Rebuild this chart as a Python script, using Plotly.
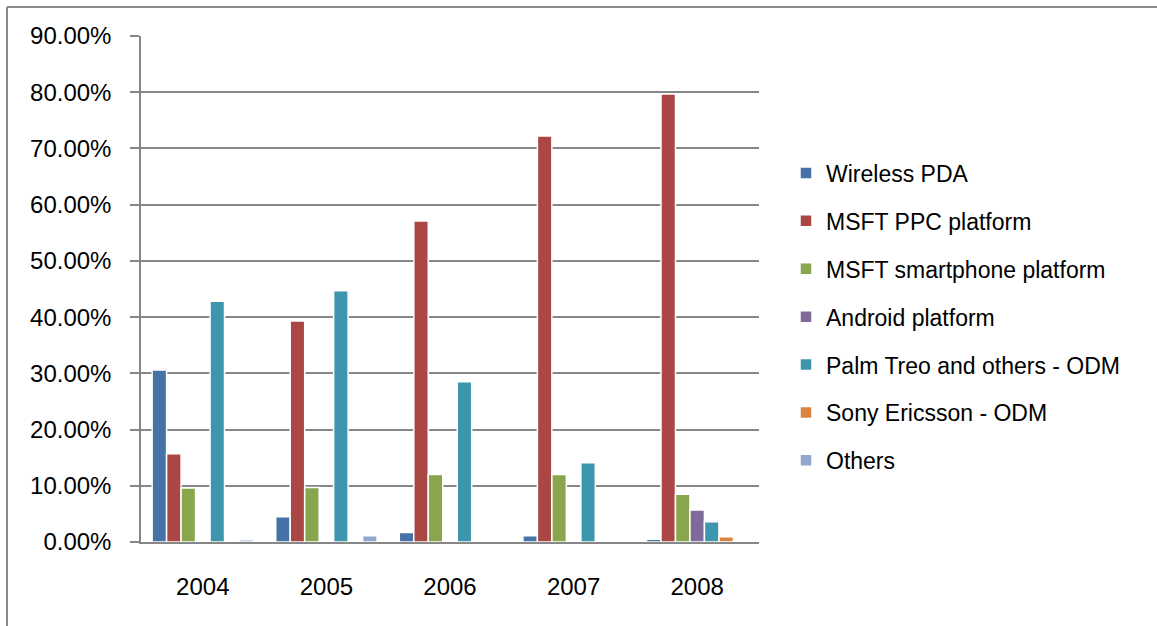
import plotly.graph_objects as go

years = ["2004", "2005", "2006", "2007", "2008"]
series_names = [
    "Wireless PDA",
    "MSFT PPC platform",
    "MSFT smartphone platform",
    "Android platform",
    "Palm Treo and others - ODM",
    "Sony Ericsson - ODM",
    "Others",
]
wireless_pda = [0.306, 0.045, 0.017, 0.011, 0.005]
msft_ppc = [0.157, 0.393, 0.571, 0.722, 0.797]
msft_smartphone = [0.096, 0.097, 0.120, 0.120, 0.085]
android = [0.0, 0.0, 0.0, 0.0, 0.057]
palm_treo = [0.428, 0.447, 0.285, 0.141, 0.036]
sony_ericsson = [0.0, 0.0, 0.0, 0.0, 0.0095]
others = [0.004, 0.011, 0.0, 0.0, 0.0]

values = [wireless_pda, msft_ppc, msft_smartphone, android, palm_treo, sony_ericsson, others]
colors = ["#4572A7", "#AA4643", "#89A54E", "#80699B", "#3D96AE", "#DB843D", "#92A8CD"]

FONT = "Liberation Sans, Arial, sans-serif"

fig = go.Figure()
for i, (name, vals, col) in enumerate(zip(series_names, values, colors)):
    fig.add_trace(go.Bar(
        x=years, y=vals, name=name,
        marker=dict(color=col, line=dict(color="white", width=1.5)),
        legendgroup=f"g{i}",
    ))

gray = "#878787"
L, R, T, B = 141, 398, 36, 84
W, H = 1157 - L - R, 626 - T - B

fig.update_layout(
    width=1157, height=626,
    margin=dict(l=L, r=R, t=T, b=B, pad=0),
    paper_bgcolor="white", plot_bgcolor="white",
    barmode="group", bargap=0.18, bargroupgap=0,
    font=dict(family=FONT, size=23, color="black"),
    showlegend=True,
    legend=dict(
        x=(786 - L) / W, xanchor="left",
        y=(626 - B - 317) / H, yanchor="middle",
        font=dict(family=FONT, size=23, color="black"),
        tracegroupgap=15,
        bgcolor="rgba(0,0,0,0)",
    ),
    xaxis=dict(
        showline=True, linecolor=gray, linewidth=1.5,
        showgrid=False, ticks="", ticklabelstandoff=22,
        tickfont=dict(family=FONT, size=24, color="black"),
    ),
    yaxis=dict(
        range=[0, 0.9], dtick=0.1, tickformat=".2%",
        showline=True, linecolor=gray, linewidth=1.5,
        showgrid=True, gridcolor=gray, gridwidth=1.5,
        ticks="outside", ticklen=9, tickcolor=gray, tickwidth=1.5,
        ticklabelstandoff=14,
        tickfont=dict(family=FONT, size=24, color="black"),
        zeroline=False,
    ),
    shapes=[
        dict(type="line", xref="paper", yref="paper",
             x0=(7 - L) / W, x1=(7 - L) / W, y0=-0.5, y1=(626 - B - 7) / H,
             line=dict(color="#8a8a8a", width=2)),
        dict(type="line", xref="paper", yref="paper",
             x0=(7 - L) / W, x1=3, y0=(626 - B - 7) / H, y1=(626 - B - 7) / H,
             line=dict(color="#8a8a8a", width=2)),
    ],
)

fig.write_html("out.html")
